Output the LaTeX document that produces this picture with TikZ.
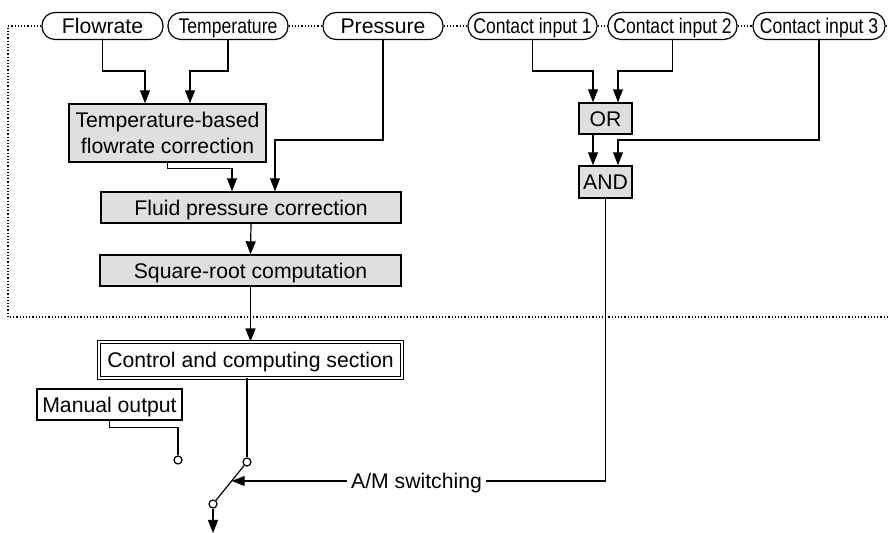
\documentclass[tikz,border=0pt]{standalone}
\usepackage{fontspec}
\setmainfont{Liberation Sans}
\newfontfamily\narrowfont[FakeStretch=0.83]{Liberation Sans}
\usetikzlibrary{arrows.meta, calc}

\begin{document}
\begin{tikzpicture}[x=0.5pt, y=-0.5pt, line width=0.6pt,
  font=\fontsize{10.6}{13.3}\selectfont,
  signal/.style={draw, rounded corners=6.5pt, minimum height=13.5pt, inner sep=0pt, text height=7.6pt, text depth=0pt},
  narrow/.style={font=\narrowfont\fontsize{10.6}{13.3}\selectfont},
  block/.style={draw, line width=0.7pt, fill=gray!25, minimum height=15.5pt, inner sep=1pt, text height=7.6pt, text depth=0pt},
  plain/.style={draw, line width=0.7pt, minimum height=15.5pt, inner sep=1pt, text height=7.6pt, text depth=0pt},
  term/.style={circle, draw, fill=white, minimum size=4pt, inner sep=0pt},
  arr/.style={-{Triangle[length=6.5pt, width=5pt]}},
  frame/.style={line width=0.6pt, dash pattern=on 0.6pt off 1pt}]

  \useasboundingbox (0,0) rectangle (889,533);

  % Input signals on the top line
  \node[signal, minimum width=60.5pt] (flow) at (102.5,26) {Flowrate};
  \node[signal, narrow, minimum width=60pt] (temp) at (228,26) {Temperature};
  \node[signal, minimum width=60pt] (press) at (383,26) {Pressure};
  \node[signal, narrow, minimum width=64.5pt] (ci1) at (532.5,26) {Contact input 1};
  \node[signal, narrow, minimum width=64.5pt] (ci2) at (672.5,26) {Contact input 2};
  \node[signal, narrow, minimum width=66pt] (ci3) at (819,26) {Contact input 3};

  % Computation blocks
  \node[block, minimum width=98.5pt, minimum height=29pt, align=center, text height=20.9pt] (tbased) at (167.5,133) {Temperature-based\\flowrate correction};
  \node[block, minimum width=150pt] (fluid) at (251,207.5) {Fluid pressure correction};
  \node[block, minimum width=150.5pt] (sqroot) at (250.5,270.5) {Square-root computation};
  \node[draw, double, line width=0.5pt, double distance=1.4pt, minimum width=151.5pt, minimum height=18pt, text height=7.6pt, text depth=0pt] (ctrl) at (250.5,360) {Control and computing section};
  \node[plain, minimum width=72.5pt] (manual) at (109.5,404.5) {Manual output};

  % Logic gates
  \node[block, minimum width=26.5pt] (or) at (605.5,118.5) {OR};
  \node[block, minimum width=26.5pt, minimum height=16pt] (and) at (605.5,182) {AND};

  % Switch terminals and label
  \node[term] (mterm) at (178,460) {};
  \node[term] (aterm) at (247,462) {};
  \node[term] (oterm) at (213,504) {};
  \node[inner sep=2pt, text height=7.6pt, text depth=0pt] (am) at (416.5,481) {A/M switching};
  \coordinate (blade) at ($(oterm)!0.55!(aterm)$);
  \coordinate (out) at (213,533);

  % Dotted frame round the computing part
  \coordinate (tl) at (8,26);
  \coordinate (bl) at (8,317);
  \coordinate (br) at (889,317);
  \coordinate (tr) at (889,26);
  \draw[frame] (flow.west) -- (tl) -- (bl) -- (br);
  \draw[frame] (temp.east) -- (press.west);
  \draw[frame] (press.east) -- (ci1.west);
  \draw[frame] (ci1.east) -- (ci2.west);
  \draw[frame] (ci2.east) -- (ci3.west);
  \draw[frame] (ci3.east) -- (tr);

  % Flowrate path
  \draw[arr] (flow.south) -- ++(0,31) -| ([xshift=-11.25pt]tbased.north);
  \draw[arr] (temp.south) -- ++(0,31) -| ([xshift=11.25pt]tbased.north);
  \draw[arr] (tbased.south) -- ++(0,6) -| ([xshift=-9.5pt]fluid.north);
  \draw[arr] (press.south) -- ++(0,100) -| ([xshift=12pt]fluid.north);
  \draw[arr] (fluid.south) -- (sqroot.north);
  \draw[arr] (sqroot.south) -- (ctrl.north);

  % Contact inputs into the gates
  \draw[arr] (ci1.south) -- ++(0,31) -| ([xshift=-6.25pt]or.north);
  \draw[arr] (ci2.south) -- ++(0,31) -| ([xshift=6.25pt]or.north);
  \draw[arr] ([xshift=-6.25pt]or.south) -- ([xshift=-6.25pt]and.north);
  \draw[arr] (ci3.south) -- ++(0,100) -| ([xshift=6.25pt]and.north);
  \draw (and.south) |- (am.east);

  % A/M switch
  \draw (manual.south) -- ++(0,7) -| (mterm.north);
  \draw (aterm.north |- ctrl.south) -- (aterm.north);
  \draw (oterm) -- (aterm);
  \draw[arr] (am.west) -- (am.west -| blade);
  \draw[arr] (oterm.south) -- (out);

\end{tikzpicture}
\end{document}
